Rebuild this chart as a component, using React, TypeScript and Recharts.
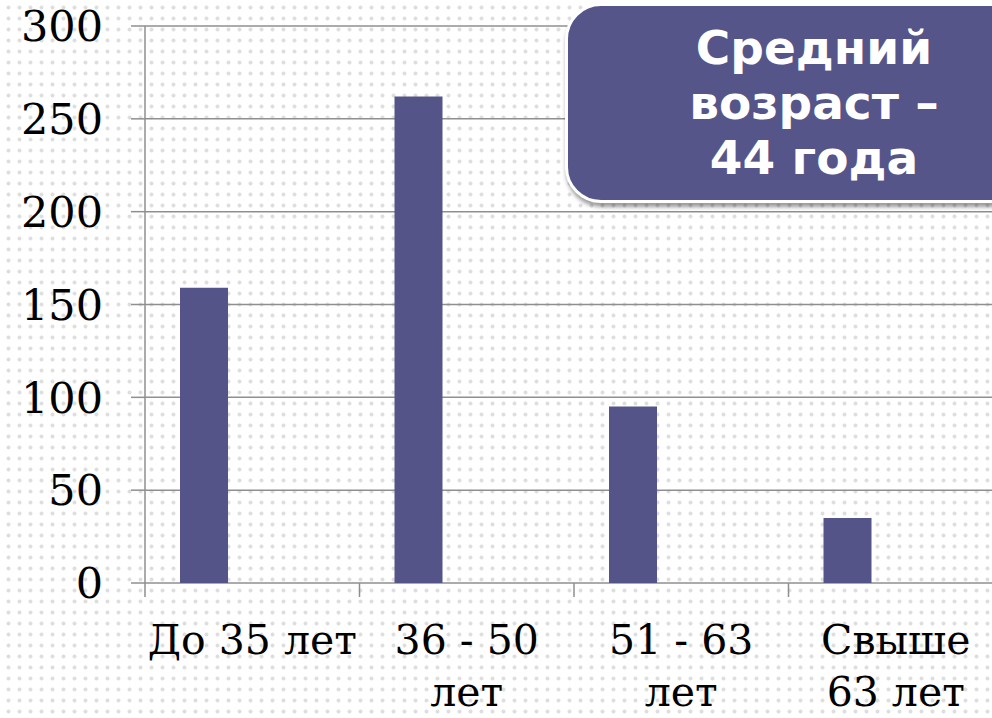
import React from "react";
import { BarChart, Bar, XAxis, YAxis, CartesianGrid } from "recharts";

const ageGroups = ["До 35 лет", "36 - 50\nлет", "51 - 63\nлет", "Свыше\n63 лет"];
const peopleCount = [159, 262, 95, 35];
const yTicks = [0, 50, 100, 150, 200, 250, 300];

const calloutLines = ["Средний", "возраст –", "44 года"];

const rows = ageGroups.map((group, i) => ({ group, count: peopleCount[i] }));

const GRID = "#8f8f8f";
const BAR = "#545488";

function CategoryTick(props: any) {
  const { x, y, payload } = props;
  const half = payload.offset ?? 0;
  const lines = String(payload.value).split("\n");
  return (
    <g>
      <line x1={x - half} y1={y} x2={x - half} y2={y + 14} stroke={GRID} strokeWidth={1.5} />
      <text
        x={x}
        textAnchor="middle"
        fill="#000"
        fontSize={41}
        fontFamily="'DejaVu Serif', serif"
      >
        {lines.map((line, i) => (
          <tspan key={i} x={x} y={y + 71 + i * 52}>
            {line}
          </tspan>
        ))}
      </text>
    </g>
  );
}

export default function App() {
  return (
    <div
      style={{
        position: "absolute",
        left: 0,
        top: 0,
        width: 992,
        height: 718,
        overflow: "hidden",
        background: "#fff",
        backgroundImage: "radial-gradient(circle, #dedede 1.6px, transparent 2.4px)",
        backgroundSize: "11px 11px",
        backgroundPosition: "3px 2px",
      }}
    >
      <BarChart
        width={1010}
        height={718}
        data={rows}
        margin={{ top: 26, right: 7, bottom: 0, left: 0 }}
        barGap={0}
        barCategoryGap={35}
      >
        <CartesianGrid vertical={false} stroke={GRID} strokeWidth={1.5} />
        <XAxis
          dataKey="group"
          height={135}
          axisLine={false}
          tickLine={false}
          tickSize={0}
          tickMargin={0}
          interval={0}
          tick={<CategoryTick />}
        />
        <YAxis
          width={145}
          domain={[0, 300]}
          ticks={yTicks}
          interval={0}
          axisLine={{ stroke: GRID, strokeWidth: 1.5 }}
          tickLine={{ stroke: GRID, strokeWidth: 1.5 }}
          tickSize={14}
          tickMargin={28}
          tick={{ fill: "#000", fontSize: 43, fontFamily: "'DejaVu Serif', serif" }}
        />
        <Bar dataKey="count" fill={BAR} isAnimationActive={false} />
        {/* пустые ряды, как в исходной диаграмме: столбец смещён влево */}
        <Bar dataKey="series2" fill={BAR} isAnimationActive={false} />
        <Bar dataKey="series3" fill={BAR} isAnimationActive={false} />
      </BarChart>

      <div
        style={{
          position: "absolute",
          left: 565,
          top: 3,
          width: 480,
          height: 194,
          background: "#55558a",
          border: "3px solid #fff",
          borderRadius: 36,
          boxShadow: "1px 4px 4px rgba(0,0,0,0.4)",
        }}
      />
      <div
        style={{
          position: "absolute",
          left: 683,
          top: 20,
          width: 262,
          textAlign: "center",
          color: "#fff",
          fontFamily: "'DejaVu Sans', sans-serif",
          fontWeight: "bold",
          fontSize: 47,
          lineHeight: "55px",
        }}
      >
        {calloutLines.map((line, i) => (
          <div key={i}>{line}</div>
        ))}
      </div>
    </div>
  );
}
